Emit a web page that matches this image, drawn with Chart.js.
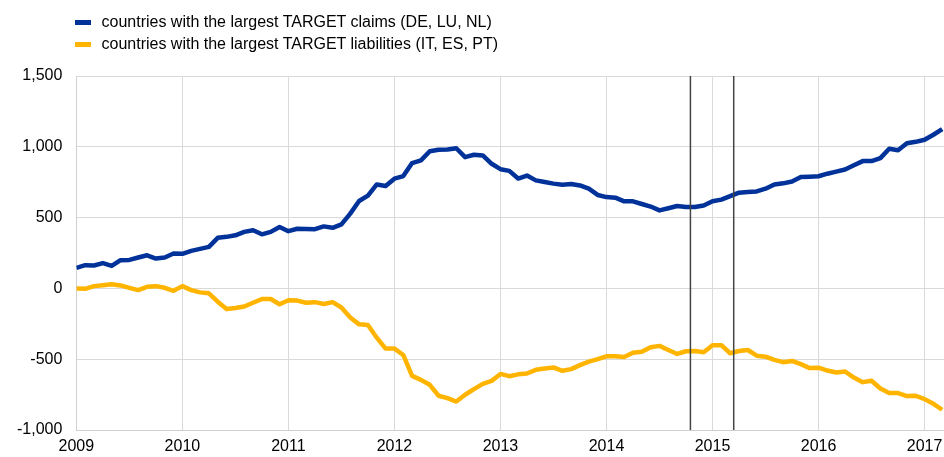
<!DOCTYPE html>
<html>
<head>
<meta charset="utf-8">
<script src="https://cdn.jsdelivr.net/npm/chart.js"></script>
<style>
  body { margin: 0; background: #fff; font-family: "Liberation Sans", Arial, sans-serif; }
  #wrap { position: relative; width: 944px; height: 457px; }
  #legend { position: absolute; left: 75px; top: 11px; font-size: 16px; color: #000; }
  .item { display: flex; align-items: center; height: 22px; white-space: nowrap; }
  .swatch { width: 16px; height: 5px; margin-right: 10.5px; }
</style>
</head>
<body>
<div id="wrap">
  <canvas id="myChart" width="944" height="457"></canvas>
  <div id="legend"></div>
</div>
<script>
'use strict';
// monthly, Jan 2009 .. Mar 2017 (EUR bn)
let startYear = 2009;
let seriesNames = ['countries with the largest TARGET claims (DE, LU, NL)', 'countries with the largest TARGET liabilities (IT, ES, PT)'];
let seriesColors = ['#003299', '#ffb400'];
let claims = [
  145, 164, 162, 178, 159, 199, 201, 218, 234, 211,
  218, 246, 244, 265, 279, 293, 357, 364, 375, 399,
  411, 382, 399, 434, 404, 421, 420, 418, 438, 428,
  452, 528, 617, 655, 734, 723, 775, 793, 885, 904,
  969, 979, 981, 990, 927, 944, 939, 880, 842, 830,
  776, 797, 763, 751, 740, 732, 737, 727, 704, 660,
  645, 641, 615, 615, 596, 578, 551, 566, 582, 575,
  575, 585, 615, 627, 652, 676, 680, 685, 704, 734,
  742, 755, 786, 789, 792, 810, 825, 840, 870, 899,
  899, 920, 986, 976, 1025, 1035, 1050, 1085, 1125
];
let liabilities = [
  0, -3, 16, 23, 30, 21, 4, -12, 11, 16,
  4, -17, 16, -12, -28, -35, -94, -145, -139, -128,
  -101, -75, -75, -112, -84, -86, -101, -97, -110, -97,
  -135, -205, -254, -258, -348, -425, -425, -470, -618, -646,
  -681, -758, -775, -799, -751, -711, -674, -653, -604, -620,
  -607, -601, -575, -566, -558, -582, -570, -542, -517, -500,
  -480, -480, -484, -455, -448, -415, -406, -435, -463, -444,
  -442, -451, -401, -401, -458, -442, -435, -475, -482, -505,
  -521, -512, -535, -563, -560, -580, -594, -587, -630, -662,
  -652, -707, -739, -739, -760, -758, -782, -815, -857
];
// month index of the two vertical markers (Oct 2014, Mar 2015)
let eventLines = [69.5, 74.4];

let legendEl = document.getElementById('legend');
for (let i = 0; i < seriesNames.length; i++) {
  let row = document.createElement('div');
  row.className = 'item';
  let sw = document.createElement('span');
  sw.className = 'swatch';
  sw.style.background = seriesColors[i];
  row.appendChild(sw);
  let txt = document.createElement('span');
  txt.textContent = seriesNames[i];
  row.appendChild(txt);
  legendEl.appendChild(row);
}

function toPoints(arr) {
  return arr.map((v, i) => ({ x: i, y: v }));
}

let markerPlugin = {
  id: 'markers',
  afterDatasetsDraw(chart) {
    let ctx = chart.ctx;
    let area = chart.chartArea;
    ctx.save();
    ctx.strokeStyle = '#444444';
    ctx.lineWidth = 1.5;
    eventLines.forEach(v => {
      let x = chart.scales.x.getPixelForValue(v);
      ctx.beginPath();
      ctx.moveTo(x, area.top);
      ctx.lineTo(x, area.bottom);
      ctx.stroke();
    });
    ctx.restore();
  }
};

Chart.defaults.font.family = '"Liberation Sans", Arial, sans-serif';
Chart.defaults.font.size = 16;
Chart.defaults.color = '#000';

let ctx = document.getElementById('myChart').getContext('2d');
let myChart = new Chart(ctx, {
  type: 'line',
  data: {
    datasets: [{
      label: seriesNames[0],
      data: toPoints(claims),
      borderColor: seriesColors[0],
      borderWidth: 4.5,
      pointRadius: 0,
      borderJoinStyle: 'round'
    }, {
      label: seriesNames[1],
      data: toPoints(liabilities),
      borderColor: seriesColors[1],
      borderWidth: 4.5,
      pointRadius: 0,
      borderJoinStyle: 'round'
    }]
  },
  options: {
    responsive: false,
    animation: false,
    devicePixelRatio: 1,
    layout: { padding: { top: 76, left: 3, right: 0, bottom: 0 } },
    plugins: { legend: { display: false }, tooltip: { enabled: false } },
    scales: {
      x: {
        type: 'linear',
        min: 0,
        max: 98.2,
        grid: { color: '#d9d9d9', drawTicks: false },
        border: { color: '#d0d0d0' },
        ticks: {
          stepSize: 12,
          includeBounds: false,
          maxRotation: 0,
          autoSkip: false,
          padding: 7,
          callback: v => String(startYear + v / 12)
        },
        afterFit(scale) {
          scale.height = 27;
          scale.paddingLeft = 0;
          scale.paddingRight = 0;
        }
      },
      y: {
        min: -1000,
        max: 1500,
        grid: { color: '#d9d9d9', drawTicks: false },
        border: { color: '#d0d0d0' },
        ticks: { stepSize: 500, padding: 14 }
      }
    }
  },
  plugins: [markerPlugin]
});
</script>
</body>
</html>
